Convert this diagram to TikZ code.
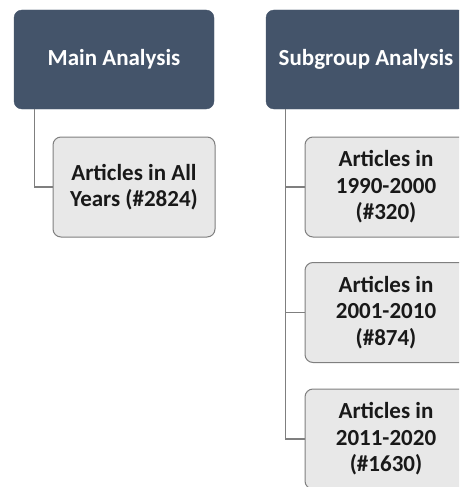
\documentclass[tikz,border=0pt]{standalone}
\usepackage{fontspec}
\setmainfont{Carlito}
\usepackage{tikz}

\definecolor{headblue}{HTML}{44546A}
\definecolor{boxgray}{HTML}{E8E8E8}
\definecolor{linegray}{HTML}{7F7F7F}

\tikzset{
  headbox/.style={draw=headblue,fill=headblue,rounded corners=8pt,minimum width=200pt,minimum height=99pt,
    text=white,font=\fontsize{23}{26.5}\selectfont\bfseries,align=center,inner sep=0pt},
  itembox/.style={draw=linegray,line width=1pt,fill=boxgray,rounded corners=8pt,minimum width=162pt,minimum height=100pt,
    text=black!90,font=\fontsize{23}{26.5}\selectfont\bfseries,align=center,inner sep=0pt},
  link/.style={draw=linegray,line width=1.2pt}
}

\begin{document}
\begin{tikzpicture}[x=1pt,y=-1pt]
        \useasboundingbox (0,0) rectangle (459,487);
        \clip (0,0) rectangle (459,487);

        \node[headbox] (main) at (114,59.5) {Main Analysis};
        \node[itembox] (all) at (134,187) {Articles in All\\Years (\#2824)};

        \node[headbox] (sub) at (366,59.5) {Subgroup Analysis};
        \node[itembox] (y1990) at (386,187) {Articles in\\1990-2000\\(\#320)};
        \node[itembox] (y2001) at (386,312.5) {Articles in\\2001-2010\\(\#874)};
        \node[itembox] (y2011) at (386,439) {Articles in\\2011-2020\\(\#1630)};

        \draw[link]([xshift=21pt]main.south west) |- (all.west);
        \draw[link]([xshift=20pt]sub.south west) |- (y2011.west);
        \draw[link]([xshift=20pt]sub.south west) |- (y1990.west);
        \draw[link]([xshift=20pt]sub.south west) |- (y2001.west);
    \end{tikzpicture}
\end{document}
